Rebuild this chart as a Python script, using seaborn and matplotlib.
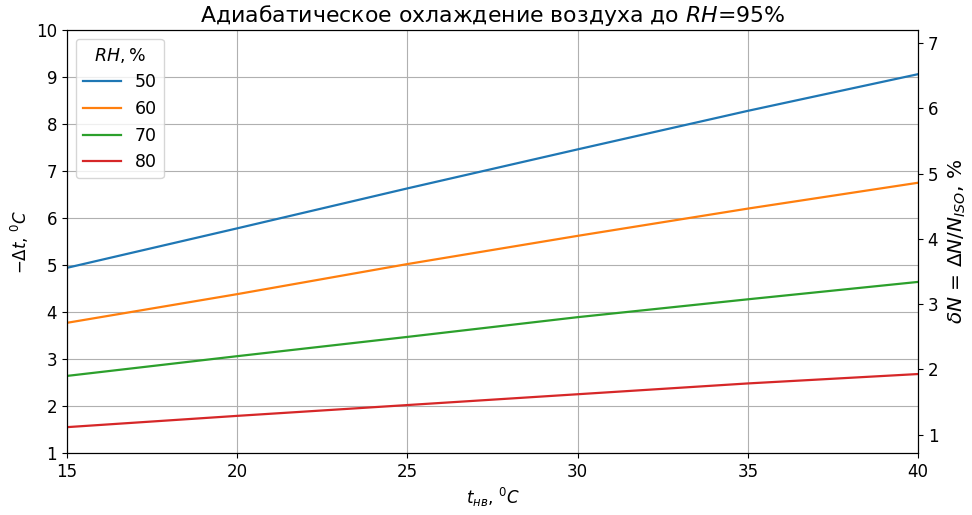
import pandas as pd
import matplotlib
matplotlib.use('Agg')
import matplotlib.pyplot as plt
import seaborn as sns

# outdoor temperature, C
t_out = [15, 20, 25, 30, 35, 40]

# temperature drop for each initial RH
rh_levels = [50, 60, 70, 80]
dt_rh50 = [4.94, 5.78, 6.63, 7.46, 8.28, 9.06]
dt_rh60 = [3.77, 4.38, 5.02, 5.62, 6.20, 6.75]
dt_rh70 = [2.64, 3.06, 3.47, 3.89, 4.27, 4.64]
dt_rh80 = [1.55, 1.79, 2.02, 2.25, 2.48, 2.68]

# power gain per degree of cooling
power_factor = 0.72

plt.rcParams['font.size'] = 12

rows = []
for rh, series in zip(rh_levels, [dt_rh50, dt_rh60, dt_rh70, dt_rh80]):
    for t, d in zip(t_out, series):
        rows.append({'t': t, 'dt': d, 'RH': str(rh)})
data = pd.DataFrame(rows)

fig = plt.figure(figsize=(9.72, 5.15), dpi=100)
ax = fig.add_axes([0.0689, 0.1204, 0.8755, 0.8213])

sns.lineplot(data=data, x='t', y='dt', hue='RH',
             palette=sns.color_palette('tab10', 4), linewidth=1.6, ax=ax)

ax.set_xlim(15, 40)
ax.set_ylim(1, 10)
ax.set_yticks(range(1, 11))
ax.grid(True, color='#b0b0b0', linewidth=0.8)
ax.set_title('Адиабатическое охлаждение воздуха до $RH$=95%', fontsize=15.8)
ax.set_xlabel(r'$t_{нв}$, $^0C$')
ax.set_ylabel(r'$-\Delta t$, $^0C$')
ax.legend(title=r'$RH, \%$', loc='upper left', fontsize=12.5,
          title_fontsize=12.5, handlelength=2.2)

ax2 = ax.twinx()
ax2.set_ylim(1 * power_factor, 10 * power_factor)
ax2.set_yticks(range(1, 8))
ax2.set_ylabel(r'$\delta N$ = $\Delta N / N_{ISO}$, %', fontsize=14.5,
               labelpad=6)

fig.savefig('out.png', dpi=100)
